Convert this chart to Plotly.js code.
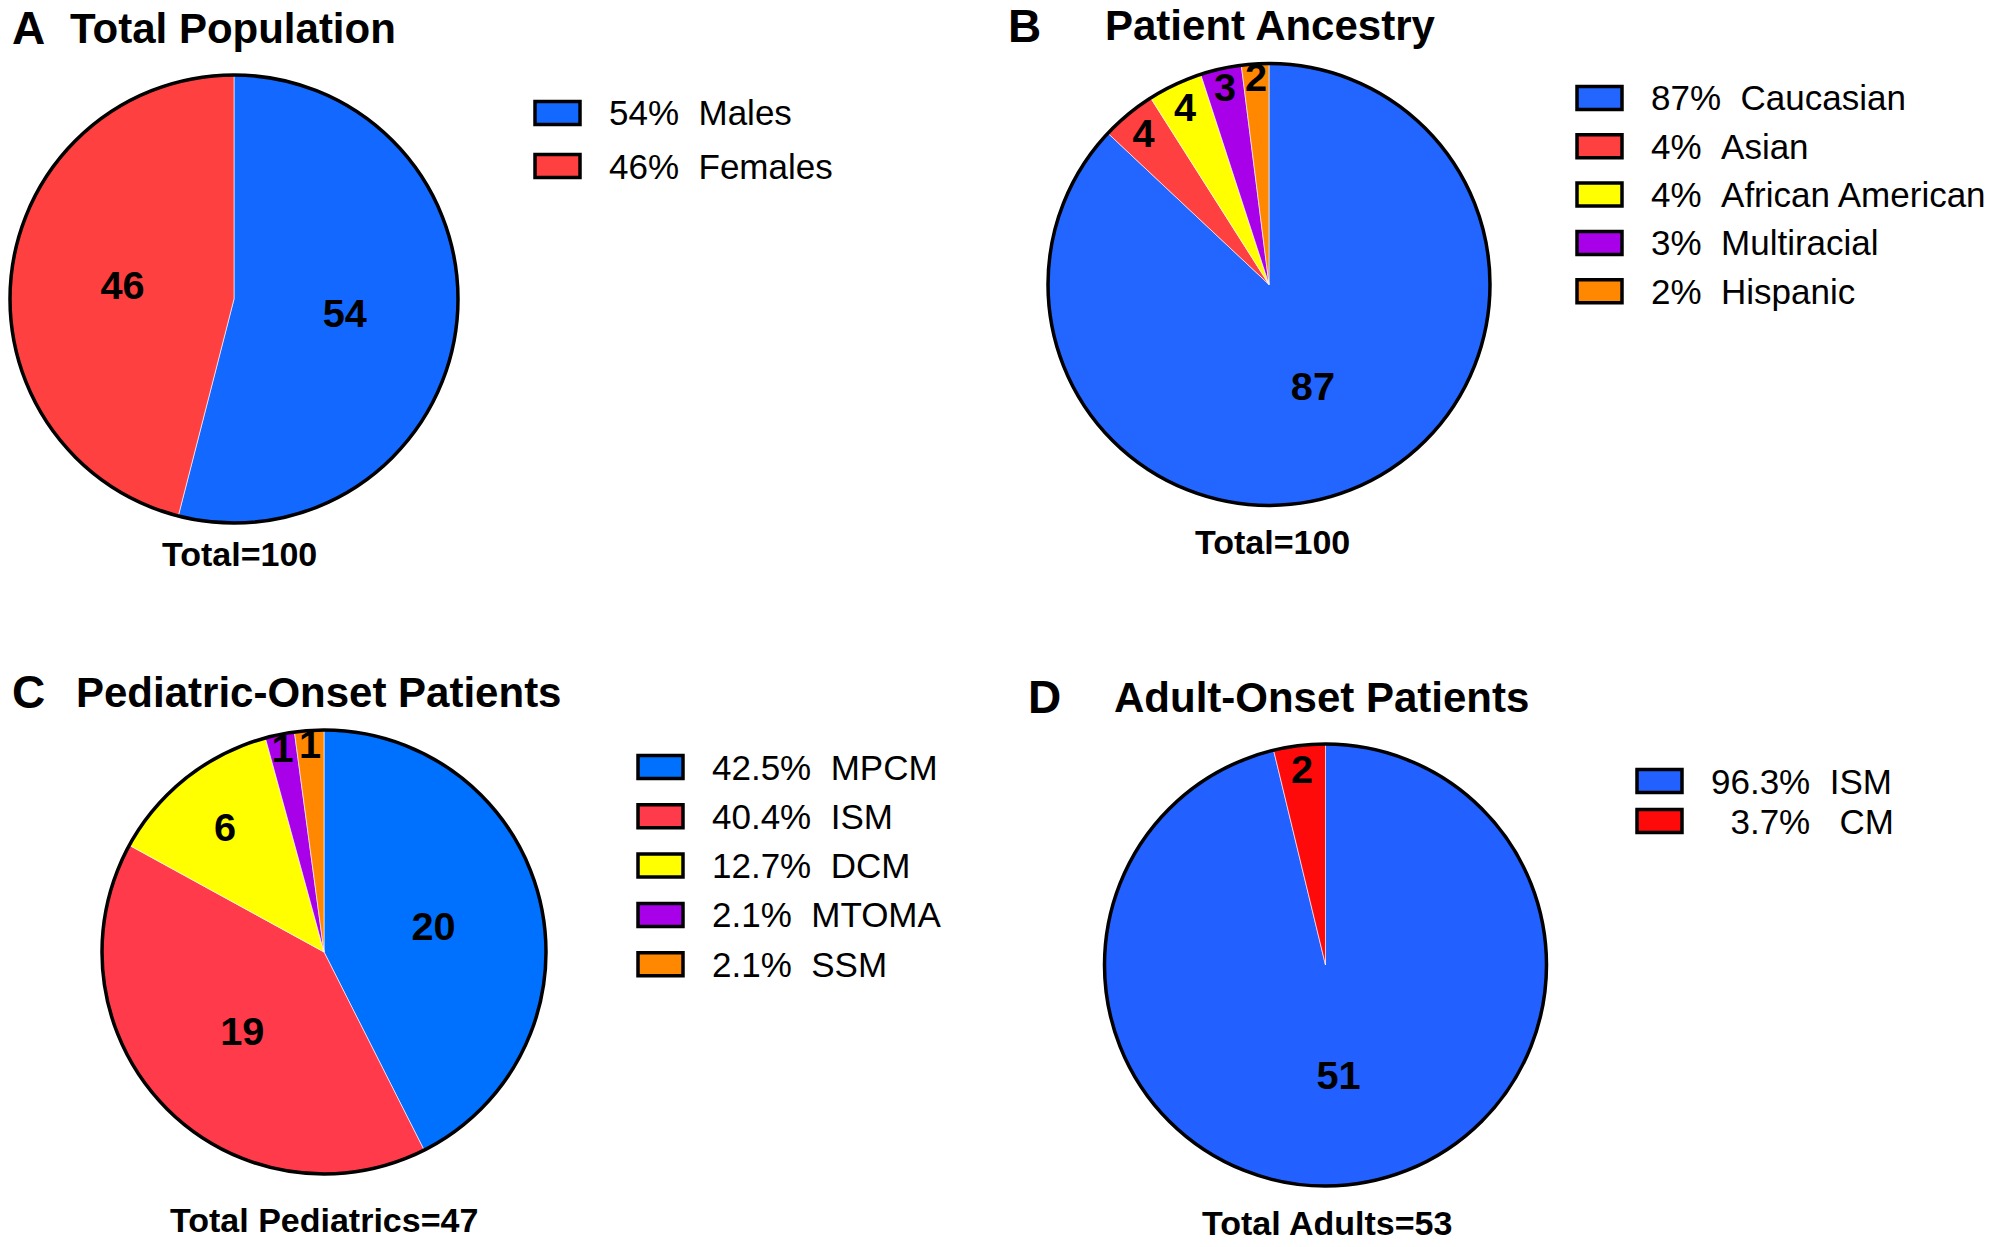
<!DOCTYPE html>
<html>
<head>
<meta charset="utf-8">
<script src="https://cdn.plot.ly/plotly-3.0.1.min.js"></script>
<style>
  html, body { margin: 0; padding: 0; background: #fff; }
  #chart { width: 2000px; height: 1247px; }
</style>
</head>
<body>
<div id="chart"></div>
<script>
// ---- data ----
var popLabels = ['Males', 'Females'];
var popValues = [54, 46];
var popPct = ['54%', '46%'];

var ancLabels = ['Caucasian', 'Asian', 'African American', 'Multiracial', 'Hispanic'];
var ancValues = [87, 4, 4, 3, 2];
var ancPct = ['87%', '4%', '4%', '3%', '2%'];

var pedLabels = ['MPCM', 'ISM', 'DCM', 'MTOMA', 'SSM'];
var pedValues = [20, 19, 6, 1, 1];
var pedPct = ['42.5%', '40.4%', '12.7%', '2.1%', '2.1%'];

var adultLabels = ['ISM', 'CM'];
var adultValues = [51, 2];
var adultPct = ['96.3%', '\u00a0\u00a03.7%\u00a0'];

var popColors = ['#1369FF', '#FF4040'];
var ancColors = ['#2266FF', '#FF4040', '#FFFF00', '#A800E8', '#FF8800'];
var pedColors = ['#0070FF', '#FF3A4A', '#FFFF00', '#A800E8', '#FF8800'];
var adultColors = ['#2260FF', '#FF0A0A'];

var W = 2000, H = 1247;
var FONT = 'Liberation Sans, Arial, Helvetica, sans-serif';

function px(x) { return x / W; }
function py(y) { return 1 - y / H; }
function sum(a) { return a.reduce(function (s, v) { return s + v; }, 0); }

// panel geometry in pixels
var panels = [
  {letter: 'A', title: 'Total Population', total: 'Total=100',
   labels: popLabels, values: popValues, pct: popPct, colors: popColors,
   pie: [10, 458, 75, 523], letterX: 10, titleX: 68, titleY: 28,
   totalX: 239, totalY: 554, legX: 535, legY: 113, legStep: 53},
  {letter: 'B', title: 'Patient Ancestry', total: 'Total=100',
   labels: ancLabels, values: ancValues, pct: ancPct, colors: ancColors,
   pie: [1048, 1490, 63, 506], letterX: 1006, titleX: 1103, titleY: 26,
   totalX: 1272, totalY: 542, legX: 1577, legY: 98, legStep: 48.3},
  {letter: 'C', title: 'Pediatric-Onset Patients', total: 'Total Pediatrics=47',
   labels: pedLabels, values: pedValues, pct: pedPct, colors: pedColors,
   pie: [102, 546, 730, 1174], letterX: 10, titleX: 74, titleY: 692,
   totalX: 324, totalY: 1220, legX: 638, legY: 767, legStep: 49.3},
  {letter: 'D', title: 'Adult-Onset Patients', total: 'Total Adults=53',
   labels: adultLabels, values: adultValues, pct: adultPct, colors: adultColors,
   pie: [1103, 1548, 744, 1186], letterX: 1026, titleX: 1112, titleY: 697,
   totalX: 1327, totalY: 1223, legX: 1637, legY: 781, legStep: 40}
];

var data = [];
var annotations = [];
var shapes = [];

panels.forEach(function (p) {
  var dom = {x: [px(p.pie[0]), px(p.pie[1])], y: [py(p.pie[3]), py(p.pie[2])]};

  data.push({
    type: 'pie', domain: dom, sort: false, direction: 'clockwise', rotation: 0,
    labels: p.labels, values: p.values,
    marker: {colors: p.colors, line: {color: 'rgba(255,255,255,0.6)', width: 1}},
    textinfo: 'value', textposition: 'inside', insidetextorientation: 'horizontal',
    textfont: {family: FONT, size: 40, color: '#000', weight: 'bold'},
    showlegend: false, hoverinfo: 'label+value'
  });
  // black outer ring
  data.push({
    type: 'pie', domain: dom, sort: false, values: [sum(p.values)], labels: [p.letter],
    marker: {colors: ['rgba(0,0,0,0)'], line: {color: '#000', width: 3.5}},
    textinfo: 'none', hoverinfo: 'skip', showlegend: false
  });

  annotations.push({xref: 'paper', yref: 'paper', x: px(p.letterX), y: py(p.titleY),
    xanchor: 'left', yanchor: 'middle', showarrow: false, text: p.letter,
    font: {family: FONT, size: 46, color: '#000', weight: 'bold'}});
  annotations.push({xref: 'paper', yref: 'paper', x: px(p.titleX), y: py(p.titleY),
    xanchor: 'left', yanchor: 'middle', showarrow: false, text: p.title,
    font: {family: FONT, size: 42, color: '#000', weight: 'bold'}});
  annotations.push({xref: 'paper', yref: 'paper', x: px(p.totalX), y: py(p.totalY),
    xanchor: 'center', yanchor: 'middle', showarrow: false, text: p.total,
    font: {family: FONT, size: 34, color: '#000', weight: 'bold'}});

  // legend: boxes + text
  p.labels.forEach(function (lab, i) {
    var cy = p.legY + i * p.legStep;
    shapes.push({type: 'rect', xref: 'paper', yref: 'paper',
      x0: px(p.legX), x1: px(p.legX + 45), y0: py(cy + 11.5), y1: py(cy - 11.5),
      fillcolor: p.colors[i], line: {color: '#000', width: 3.5}});
    annotations.push({xref: 'paper', yref: 'paper', x: px(p.legX + 72), y: py(cy),
      xanchor: 'left', yanchor: 'middle', showarrow: false,
      text: p.pct[i] + '\u00a0\u00a0' + lab,
      font: {family: FONT, size: 35, color: '#000'}});
  });
});

var layout = {
  width: W, height: H,
  margin: {l: 0, r: 0, t: 0, b: 0, pad: 0},
  paper_bgcolor: '#fff', plot_bgcolor: '#fff',
  showlegend: false,
  uniformtext: {minsize: 38, mode: 'show'},
  annotations: annotations,
  shapes: shapes
};

Plotly.newPlot('chart', data, layout, {displayModeBar: false, staticPlot: true});
</script>
</body>
</html>
